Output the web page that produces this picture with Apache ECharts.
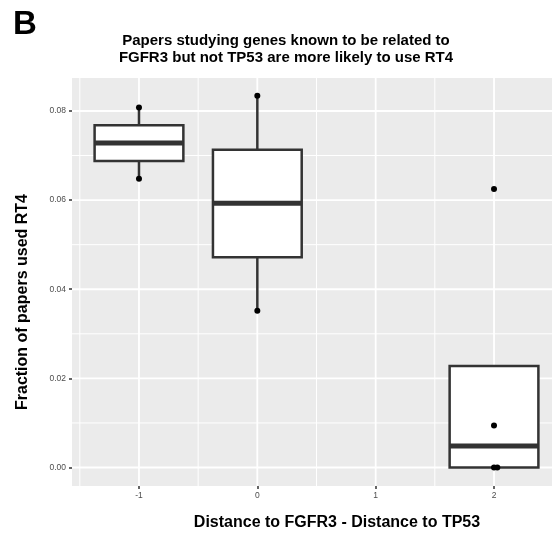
<!DOCTYPE html>
<html><head><meta charset="utf-8">
<script src="https://cdn.jsdelivr.net/npm/echarts@6/dist/echarts.min.js"></script>
<style>html,body{margin:0;padding:0;background:#fff}#c{width:552px;height:538px}</style>
</head><body><div id="c"></div>
<script>
// ---- data ----
const xTicks = [-1, 0, 1, 2];
const xTickLabels = ['-1', '0', '1', '2'];
const yTicks = [0, 0.02, 0.04, 0.06, 0.08];
const yTickLabels = ['0.00', '0.02', '0.04', '0.06', '0.08'];
const xMinorGrid = [-1.5, -0.5, 0.5, 1.5, 2.5];
const yMinorGrid = [0.01, 0.03, 0.05, 0.07];

const boxX      = [-1, 0, 2];
const boxLower  = [0.0648, 0.0352, 0.0];
const boxQ1     = [0.0688, 0.0472, 0.0];
const boxMedian = [0.0728, 0.0593, 0.0048];
const boxQ3     = [0.0768, 0.0713, 0.0228];
const boxUpper  = [0.0808, 0.0834, 0.0228];

const pointX = [-1, -1, 0, 0, 2, 2.028, 2, 2];
const pointY = [0.0648, 0.0808, 0.0352, 0.0834, 0.0, 0.0, 0.0094, 0.0625];

const titleLines = ['Papers studying genes known to be related to', 'FGFR3 but not TP53 are more likely to use RT4'];
const xTitle = 'Distance to FGFR3 - Distance to TP53';
const yTitle = 'Fraction of papers used RT4';
const panelLabel = 'B';

// ---- chart ----
const FONT = '"Liberation Sans", Arial, Helvetica, sans-serif';
const chart = echarts.init(document.getElementById('c'), null, {renderer: 'canvas'});

function gridLineSeries(values, vertical, width) {
  return {
    type: 'custom', silent: true, z: 1, clip: true,
    data: values.map(v => vertical ? [v, 0] : [0, v]),
    renderItem: function (params, api) {
      const cs = params.coordSys;
      if (vertical) {
        const px = api.coord([api.value(0), 0])[0];
        return {type: 'line', shape: {x1: px, y1: cs.y, x2: px, y2: cs.y + cs.height},
          style: {stroke: '#ffffff', lineWidth: width}};
      } else {
        const py = api.coord([0, api.value(1)])[1];
        return {type: 'line', shape: {x1: cs.x, y1: py, x2: cs.x + cs.width, y2: py},
          style: {stroke: '#ffffff', lineWidth: width}};
      }
    }
  };
}

const boxData = boxX.map((x, i) => [x, boxLower[i], boxQ1[i], boxMedian[i], boxQ3[i], boxUpper[i]]);
const HALF = 0.375;

const option = {
  animation: false,
  backgroundColor: '#ffffff',
  grid: {left: 72, top: 78, right: 0, bottom: 52, show: true, backgroundColor: '#EBEBEB', borderWidth: 0},
  xAxis: {
    type: 'value', min: -1.566, max: 2.49,
    axisLine: {show: false, onZero: false},
    splitLine: {show: false},
    axisTick: {show: true, customValues: xTicks, length: 3, lineStyle: {color: '#333333', width: 1.5}},
    axisLabel: {show: true, customValues: xTicks, margin: 5, fontSize: 8.5, color: '#4d4d4d', fontFamily: FONT,
      formatter: v => xTickLabels[xTicks.indexOf(v)]}
  },
  yAxis: {
    type: 'value', min: -0.00415, max: 0.0874,
    axisLine: {show: false, onZero: false},
    splitLine: {show: false},
    axisTick: {show: true, customValues: yTicks, length: 3, lineStyle: {color: '#333333', width: 1.5}},
    axisLabel: {show: true, customValues: yTicks, margin: 6, fontSize: 8.5, color: '#4d4d4d', fontFamily: FONT,
      formatter: v => yTickLabels[yTicks.indexOf(v)]}
  },
  series: [
    gridLineSeries(xMinorGrid, true, 1.0),
    gridLineSeries(yMinorGrid, false, 1.0),
    gridLineSeries(xTicks, true, 1.8),
    gridLineSeries(yTicks, false, 1.8),
    {
      type: 'custom', z: 3, clip: true,
      data: boxData,
      encode: {x: 0, y: [1, 2, 3, 4, 5]},
      renderItem: function (params, api) {
        const x = api.value(0);
        const lo = api.coord([x, api.value(1)]);
        const q1 = api.coord([x, api.value(2)]);
        const md = api.coord([x, api.value(3)]);
        const q3 = api.coord([x, api.value(4)]);
        const hi = api.coord([x, api.value(5)]);
        const xl = api.coord([x - HALF, 0])[0];
        const xr = api.coord([x + HALF, 0])[0];
        const stroke = '#333333';
        return {
          type: 'group',
          children: [
            {type: 'line', shape: {x1: lo[0], y1: lo[1], x2: q1[0], y2: q1[1]}, style: {stroke, lineWidth: 2.5}},
            {type: 'line', shape: {x1: q3[0], y1: q3[1], x2: hi[0], y2: hi[1]}, style: {stroke, lineWidth: 2.5}},
            {type: 'rect', shape: {x: xl, y: q3[1], width: xr - xl, height: q1[1] - q3[1]},
              style: {fill: '#ffffff', stroke, lineWidth: 2.5}},
            {type: 'line', shape: {x1: xl, y1: md[1], x2: xr, y2: md[1]}, style: {stroke, lineWidth: 5}}
          ]
        };
      }
    },
    {
      type: 'scatter', z: 5,
      data: pointX.map((x, i) => [x, pointY[i]]),
      symbol: 'circle', symbolSize: 6,
      itemStyle: {color: '#000000', opacity: 1}
    }
  ],
  graphic: [
    {type: 'text', x: 13, y: 8, style: {text: panelLabel, font: 'bold 33px ' + FONT, fill: '#000'}},
    {type: 'text', x: 286, y: 32, style: {text: titleLines.join('\n'), font: 'bold 15px ' + FONT, fill: '#000',
      textAlign: 'center', lineHeight: 17}},
    {type: 'text', x: 337, y: 523, style: {text: xTitle, font: 'bold 16px ' + FONT, fill: '#000',
      textAlign: 'center', textVerticalAlign: 'middle'}},
    {type: 'text', x: 23, y: 302, rotation: Math.PI / 2, style: {text: yTitle, font: 'bold 16px ' + FONT, fill: '#000',
      textAlign: 'center', textVerticalAlign: 'middle'}}
  ]
};
chart.setOption(option);
</script>
</body></html>
